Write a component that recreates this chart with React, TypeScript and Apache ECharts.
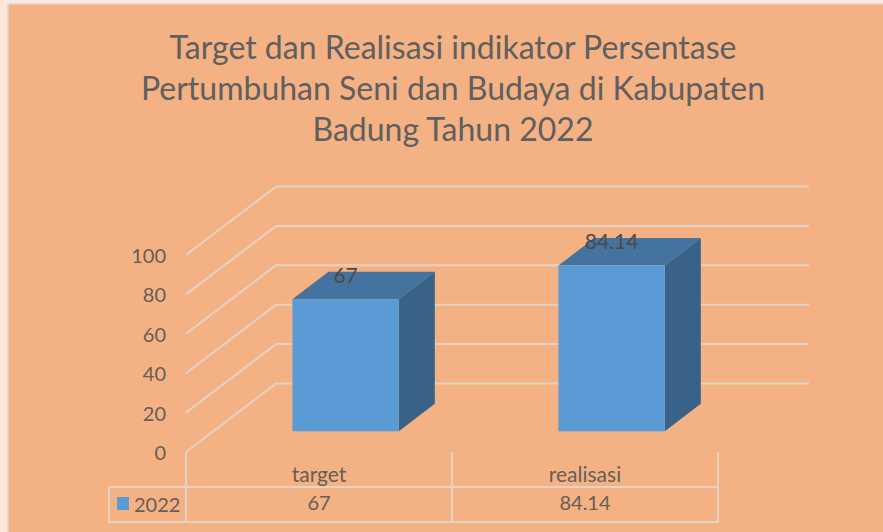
import React, { useEffect, useRef } from "react";
import * as echarts from "echarts";

const titleText = "Target dan Realisasi indikator Persentase\nPertumbuhan Seni dan Budaya di Kabupaten\nBadung Tahun 2022";
const categories = ["target", "realisasi"];
const seriesName = "2022";
const values = [67, 84.14];
const valueLabels = ["67", "84.14"];
const gridTicks = [0, 20, 40, 60, 80, 100];

const BG = "#F4B183";
const LINE = "#E4D3C5";
const TEXT = "#655F59";
const WALL_DX = 90;
const WALL_DY = -68.5;

export default function App() {
  const ref = useRef<HTMLDivElement>(null);
  useEffect(() => {
    document.body.style.margin = "0";
    const chart = echarts.init(ref.current!, undefined, { renderer: "svg" });
    const lineStyle = { stroke: LINE, lineWidth: 2, fill: "none" };
    chart.setOption({
      animation: false,
      backgroundColor: "#FDE6DA",
      textStyle: { fontFamily: "Lato" },
      graphic: [
        { type: "rect", z: -10, shape: { x: 8, y: 4, width: 880, height: 532 }, style: { fill: BG, stroke: "#DCD8D0", lineWidth: 1.5 } },
        { type: "line", z: 1, shape: { x1: 108, y1: 487, x2: 719, y2: 487 }, style: lineStyle },
        { type: "line", z: 1, shape: { x1: 108, y1: 522, x2: 719, y2: 522 }, style: lineStyle },
        { type: "line", z: 1, shape: { x1: 109, y1: 486, x2: 109, y2: 523 }, style: lineStyle },
      ],
      title: {
        text: titleText,
        left: 448,
        top: 21,
        textAlign: "center",
        textStyle: { fontFamily: "Lato", fontWeight: "normal", fontSize: 32, lineHeight: 41, color: "#5F5F5F" },
      },
      legend: {
        data: [seriesName],
        left: 117,
        top: 493.5,
        itemWidth: 12,
        itemHeight: 13,
        itemGap: 4,
        icon: "rect",
        textStyle: { fontFamily: "Lato", fontSize: 20, color: TEXT, padding: [0, 0, 0, 0] },
        padding: 0,
      },
      grid: { left: 186, right: 165, top: 255, height: 197 },
      xAxis: {
        type: "category",
        data: categories,
        axisLine: { show: false },
        axisTick: { show: true, length: 70, lineStyle: { color: LINE, width: 2 } },
        axisLabel: { fontFamily: "Lato", fontSize: 21, color: TEXT, margin: 11 },
        splitLine: { show: false },
      },
      yAxis: {
        type: "value",
        min: 0,
        max: 100,
        interval: 20,
        axisLine: { show: false },
        axisTick: { show: false },
        splitLine: { show: false },
        axisLabel: { fontFamily: "Lato", fontSize: 20, color: TEXT, margin: 20, padding: [0, 0, 2, 0] },
      },
      series: [
        {
          type: "custom",
          name: "walls",
          silent: true,
          z: 1,
          data: gridTicks.map((t) => [0, t]),
          renderItem: (_p: any, api: any) => {
            const [x0, y] = api.coord([0, api.value(1)]);
            const band = api.size([1, 0])[0];
            const left = x0 - band / 2;
            const width = band * categories.length;
            return {
              type: "polyline",
              shape: { points: [[left, y], [left + WALL_DX, y + WALL_DY], [left + WALL_DX + width + 1, y + WALL_DY]] },
              style: lineStyle,
            };
          },
        },
        {
          type: "custom",
          name: seriesName,
          z: 3,
          itemStyle: { color: "#5B9BD5" },
          data: values.map((v, i) => [i, v]),
          encode: { x: 0, y: 1 },
          renderItem: (_p: any, api: any) => {
            const i = api.value(0);
            const v = api.value(1);
            const band = api.size([1, 0])[0];
            const w = band * 0.4;
            const [cx0, y0] = api.coord([i, 0]);
            const [, y1] = api.coord([i, v]);
            const cx = cx0 + band * 0.1;
            const lift = 20.7;
            const bottom = y0 - lift;
            const top = y1 - lift;
            const l = cx - w / 2;
            const r = cx + w / 2;
            const dx = 36;
            const dy = -27.5;
            return {
              type: "group",
              children: [
                { type: "polygon", shape: { points: [[l, top], [r, top], [r + dx, top + dy], [l + dx, top + dy]] }, style: { fill: "#4473A0" } },
                { type: "polygon", shape: { points: [[r, top], [r + dx, top + dy], [r + dx, bottom + dy], [r, bottom]] }, style: { fill: "#386287" } },
                { type: "rect", shape: { x: l, y: top, width: w, height: bottom - top }, style: { fill: "#5B9BD5" } },
                { type: "text", style: { text: valueLabels[i], x: cx, y: top - 25, align: "center", verticalAlign: "middle", font: "21px Lato", fill: "#4A4A4A" } },
              ],
            };
          },
        },
        {
          type: "custom",
          name: "table",
          silent: true,
          z: 2,
          data: values.map((v, i) => [i, v]),
          renderItem: (_p: any, api: any) => {
            const i = api.value(0);
            const [cx, y0] = api.coord([i, 0]);
            return {
              type: "text",
              style: { text: valueLabels[i], x: cx, y: y0 + 50, align: "center", verticalAlign: "middle", font: "20px Lato", fill: TEXT },
            };
          },
        },
      ],
    });
    return () => chart.dispose();
  }, []);
  return <div ref={ref} style={{ width: 883, height: 532 }} />;
}
